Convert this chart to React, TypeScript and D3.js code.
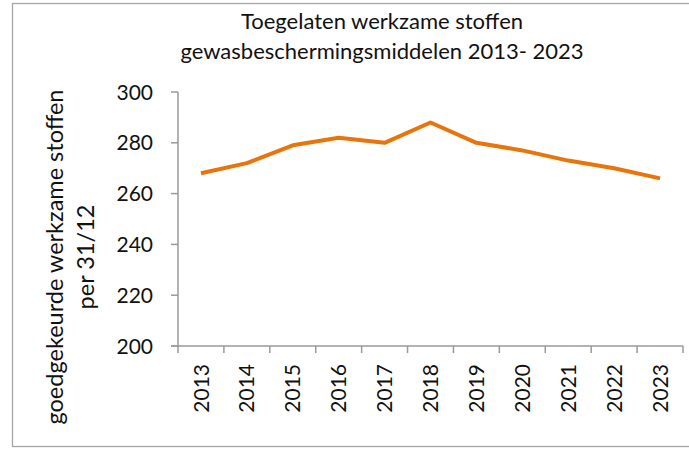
import React from 'react';
import {scaleBand, scaleLinear, line} from 'd3';

const years = ['2013', '2014', '2015', '2016', '2017', '2018', '2019', '2020', '2021', '2022', '2023'];
const stoffen = [268, 272, 279, 282, 280, 288, 280, 277, 273, 270, 266];
const yTicks = [200, 220, 240, 260, 280, 300];
const titleLines = ['Toegelaten werkzame stoffen', 'gewasbeschermingsmiddelen 2013- 2023'];
const yTitleLines = ['goedgekeurde werkzame stoffen', 'per 31/12'];

const W = 689;
const H = 449;
const font = 'Lato, "Open Sans", sans-serif';
const axisColor = '#9a9a9a';

const App = () => {
  const left = 178, right = 683, top = 92, bottom = 346;

  const xScale = scaleBand<string>().domain(years).range([left, right]);
  const yScale = scaleLinear().domain([200, 300]).range([bottom, top]);
  const bw = xScale.bandwidth();
  const cx = (yr: string) => (xScale(yr) as number) + bw / 2;

  const myLine = line<number>()
    .x((d, i) => cx(years[i]))
    .y(d => yScale(d));

  // band edges for the category ticks
  const edges = years.map(yr => xScale(yr) as number).concat([right]);

  return (
    <svg width={W} height={H} style={{position: 'absolute', left: 0, top: 0, background: '#fff'}}
      fontFamily={font}>
      <rect x={0} y={0} width={W} height={H} fill="#fff"/>
      {/* chart frame, right edge runs off the picture */}
      <rect x={12.5} y={3.5} width={W + 10} height={443} fill="none" stroke="#a6a6a6" strokeWidth={1.3}/>

      <g textAnchor="middle" fontSize={22} fill="#111">
        {titleLines.map((t, i) => (
          <text key={t} x={382} y={29 + i * 30}>{t}</text>
        ))}
      </g>

      {/* y axis */}
      <line x1={left} x2={left} y1={top} y2={bottom} stroke={axisColor} strokeWidth={1.5}/>
      {yTicks.map(t => (
        <g key={t}>
          <line x1={left - 7} x2={left} y1={yScale(t)} y2={yScale(t)} stroke={axisColor} strokeWidth={1.5}/>
          <text x={left - 25} y={yScale(t)} dy="0.36em" textAnchor="end" fontSize={21} fill="#111">{t}</text>
        </g>
      ))}

      {/* x axis */}
      <line x1={left - 7} x2={right} y1={bottom} y2={bottom} stroke={axisColor} strokeWidth={1.5}/>
      {edges.map((e, i) => (
        <line key={i} x1={e} x2={e} y1={bottom} y2={bottom + 7} stroke={axisColor} strokeWidth={1.5}/>
      ))}
      {years.map(yr => (
        <text key={yr} transform={`translate(${cx(yr)},${bottom + 18}) rotate(-90)`} dy="0.36em"
          textAnchor="end" fontSize={21} fill="#111">{yr}</text>
      ))}

      {/* y axis title */}
      <g transform="translate(0,257)" textAnchor="middle" fontSize={23.5} fill="#111">
        {yTitleLines.map((t, i) => (
          <text key={t} transform={`translate(${54 + i * 31},0) rotate(-90)`} dominantBaseline="central">{t}</text>
        ))}
      </g>

      <path d={myLine(stoffen) || ''} fill="none" stroke="#e8740c" strokeWidth={4} strokeLinejoin="round"/>
    </svg>
  );
};

export default App;
